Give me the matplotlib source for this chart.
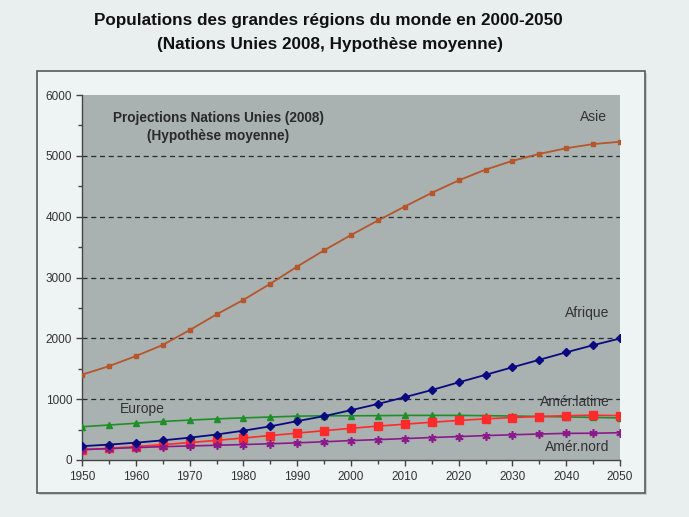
import matplotlib
matplotlib.use("Agg")
import matplotlib.pyplot as plt
from matplotlib.patches import Rectangle
from matplotlib.ticker import MultipleLocator

plt.rcParams['font.family'] = ['Liberation Sans', 'DejaVu Sans']

years = [1950, 1955, 1960, 1965, 1970, 1975, 1980, 1985, 1990, 1995, 2000,
         2005, 2010, 2015, 2020, 2025, 2030, 2035, 2040, 2045, 2050]
asie = [1403, 1542, 1708, 1891, 2135, 2393, 2632, 2898, 3180, 3447, 3698,
        3937, 4167, 4391, 4596, 4773, 4917, 5032, 5125, 5193, 5231]
afrique = [227, 253, 285, 323, 367, 419, 482, 553, 639, 721, 819,
           921, 1033, 1150, 1276, 1400, 1524, 1647, 1770, 1887, 1998]
europe = [547, 575, 604, 634, 656, 676, 693, 706, 721, 727, 727,
          729, 733, 734, 733, 729, 723, 716, 708, 700, 691]
amer_latine = [167, 191, 220, 253, 286, 323, 362, 402, 442, 482, 521,
               557, 589, 621, 650, 676, 698, 715, 728, 736, 729]
amer_nord = [172, 187, 204, 219, 231, 242, 254, 267, 282, 300, 319,
             335, 352, 369, 385, 401, 415, 427, 438, 440, 448]

title1 = "Populations des grandes régions du monde en 2000-2050"
title2 = "(Nations Unies 2008, Hypothèse moyenne)"
note = "Projections Nations Unies (2008)\n(Hypothèse moyenne)"
x_ticks = [1950, 1960, 1970, 1980, 1990, 2000, 2010, 2020, 2030, 2040, 2050]
y_ticks = [0, 1000, 2000, 3000, 4000, 5000, 6000]

W, H = 689, 517
fig = plt.figure(figsize=(W / 100, H / 100), dpi=100)
fig.patch.set_facecolor('#e9efef')

# outer chart box
bx0, bx1, by0, by1 = 37, 645, 71, 493
fig.patches.append(Rectangle((bx0 / W + 0.003, 1 - by1 / H - 0.004), (bx1 - bx0) / W, (by1 - by0) / H,
                             transform=fig.transFigure, facecolor='#c8cccc', edgecolor='none', zorder=-3))
fig.patches.append(Rectangle((bx0 / W, 1 - by1 / H), (bx1 - bx0) / W, (by1 - by0) / H,
                             transform=fig.transFigure, facecolor='#eef3f3', edgecolor='#555a5a',
                             linewidth=1.2, zorder=-2))

fig.text(328 / W, 1 - 20 / H, title1, ha='center', va='center', fontsize=12.3, fontweight='bold', color='#111111')
fig.text(330 / W, 1 - 44 / H, title2, ha='center', va='center', fontsize=12.3, fontweight='bold', color='#111111')

ax = fig.add_axes([82 / W, 1 - 460 / H, (620 - 82) / W, (460 - 95) / H])
ax.set_zorder(2)
ax.set_facecolor('#aab1b1')
ax.set_xlim(1950, 2050)
ax.set_ylim(0, 6000)

for v in [1000, 2000, 3000, 4000, 5000]:
    ax.axhline(v, color='#2a2a2a', linestyle=(0, (4, 3)), linewidth=0.9, zorder=1)

ax.plot(years, asie, color='#b5562b', marker='s', markersize=3.5, linewidth=1.3, zorder=3)
ax.plot(years, europe, color='#1f8f2a', marker='^', markersize=4.5, linewidth=1.2, zorder=3)
ax.plot(years, amer_latine, color='#ff2a2a', marker='s', markersize=5.5, linewidth=1.2, zorder=3)
ax.plot(years, amer_nord, color='#8a1a8a', marker=(6, 2, 0), markersize=6, markeredgewidth=1.2,
        linewidth=1.2, zorder=3)
ax.plot(years, afrique, color='#0a0a80', marker='D', markersize=4.5, linewidth=1.3, zorder=4)

lab = dict(fontsize=10, color='#333333', va='center')
ax.text(2047.6, 5639, "Asie", ha='right', **lab)
ax.text(2048, 2417, "Afrique", ha='right', **lab)
ax.text(1961.3, 838, "Europe", ha='center', **lab)
ax.text(2048, 953, "Amér.latine", ha='right', **lab)
ax.text(2048, 214, "Amér.nord", ha='right', **lab)
ax.text(1975.3, 5470, note, ha='center', va='center', fontsize=9.8, fontweight='bold',
        color='#2a2a2a', linespacing=1.4)

for s in ['top', 'right']:
    ax.spines[s].set_visible(False)
for s in ['left', 'bottom']:
    ax.spines[s].set_color('#444444')
    ax.spines[s].set_linewidth(1)

ax.set_xticks(x_ticks)
ax.set_xticklabels([str(t) for t in x_ticks])
ax.xaxis.set_minor_locator(MultipleLocator(5))
ax.set_yticks(y_ticks)
ax.set_yticklabels([str(t) for t in y_ticks])
ax.yaxis.set_minor_locator(MultipleLocator(500))
ax.tick_params(axis='both', which='major', direction='out', length=4, width=1, color='#444444',
               labelsize=8.5, labelcolor='#333333')
ax.tick_params(axis='both', which='minor', direction='out', length=3, width=1, color='#444444')
ax.tick_params(axis='x', pad=4)
ax.tick_params(axis='y', pad=3)

fig.savefig('out.png', dpi=100, facecolor=fig.get_facecolor())
